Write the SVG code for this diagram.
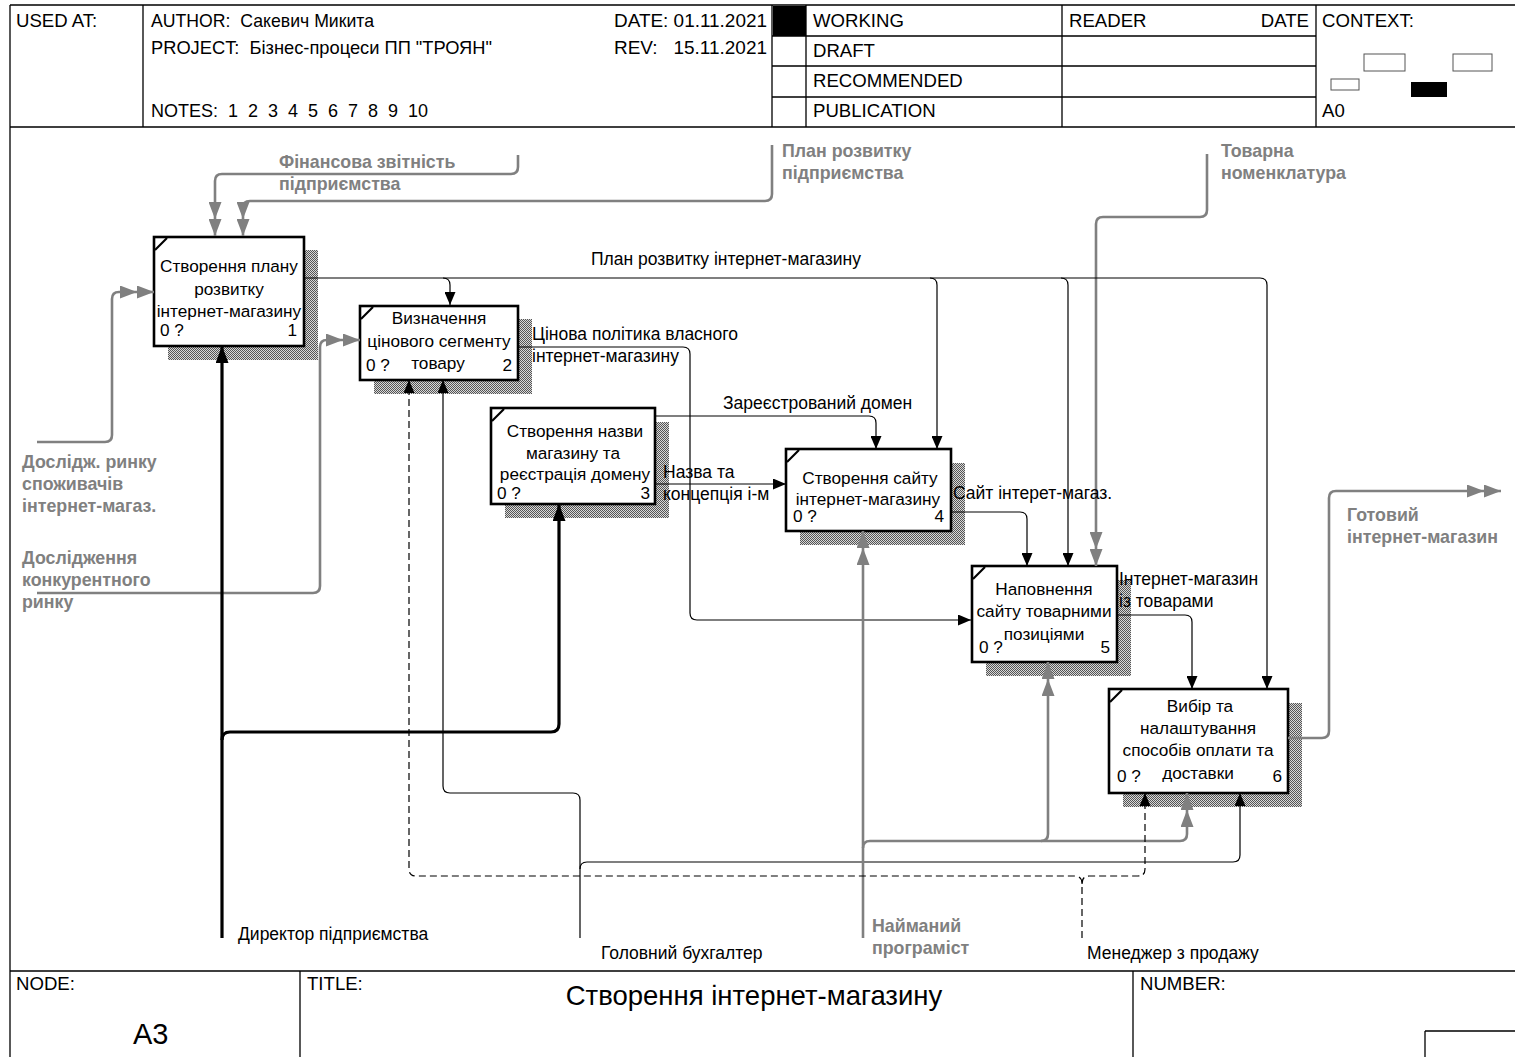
<svg xmlns="http://www.w3.org/2000/svg" width="1515" height="1057" viewBox="0 0 1515 1057">
<style>
text{font-family:"Liberation Sans",Arial,sans-serif;fill:#000;white-space:pre}
.hd{font-size:18.6px}
.bx{font-size:17.2px;text-anchor:middle}
.bn{font-size:17.2px}
.bnr{font-size:17.2px;text-anchor:end}
.lb{font-size:17.5px}
.gl{font-size:17.8px;font-weight:bold;fill:#808080}
.frame{fill:none;stroke:#000;stroke-width:1.3}
.box{fill:#fff;stroke:#000;stroke-width:2.6}
.shadow{fill:url(#hatch)}
.corner{stroke:#000;stroke-width:2.2}
.blk{fill:none;stroke:#000;stroke-width:1.2;marker-end:url(#ab)}
.thk{fill:none;stroke:#000;stroke-width:3.2;marker-end:url(#at)}
.gry{fill:none;stroke:#808080;stroke-width:2.6;marker-end:url(#ag)}
.dsh{fill:none;stroke:#000;stroke-width:1.2;stroke-dasharray:7 4;marker-end:url(#ab)}
</style>
<defs>
<pattern id="hatch" width="2" height="2" patternUnits="userSpaceOnUse">
<rect width="2" height="2" fill="#d8d8d8"/>
<rect width="1" height="1" fill="#555"/>
<rect x="1" y="1" width="1" height="1" fill="#555"/>
</pattern>
<marker id="ab" markerUnits="userSpaceOnUse" viewBox="0 0 13 11" refX="13" refY="5.5" markerWidth="13" markerHeight="11" orient="auto">
<path d="M0,0 L13,5.5 L0,11 Z" fill="#000"/>
</marker>
<marker id="at" markerUnits="userSpaceOnUse" viewBox="0 0 17 13" refX="17" refY="6.5" markerWidth="17" markerHeight="13" orient="auto">
<path d="M0,0 L17,6.5 L0,13 Z" fill="#000"/>
</marker>
<marker id="ag" markerUnits="userSpaceOnUse" viewBox="0 0 34 13" refX="34" refY="6.5" markerWidth="34" markerHeight="13" orient="auto">
<path d="M0,0 L17,6.5 L0,13 Z M17,0 L34,6.5 L17,13 Z" fill="#808080"/>
</marker>
</defs>
<rect width="1515" height="1057" fill="#fff"/>

<g id="header">
<path class="frame" d="M10,5 H1515 M10,5 V1057 M10,127 H1515 M143,5 V127 M772,5 V127 M806,5 V127 M1062,5 V127 M1316,5 V127 M772,36 H1316 M772,66 H1316 M772,97 H1316"/>
<rect x="773" y="6" width="33" height="30" fill="#000"/>
<text class="hd" x="16" y="27">USED AT:</text>
<text class="hd" x="151" y="27" textLength="223" lengthAdjust="spacingAndGlyphs">AUTHOR:  Сакевич Микита</text>
<text class="hd" x="151" y="54" textLength="341" lengthAdjust="spacingAndGlyphs">PROJECT:  Бізнес-процеси ПП "ТРОЯН"</text>
<text class="hd" x="151" y="117" textLength="277" lengthAdjust="spacingAndGlyphs">NOTES:  1  2  3  4  5  6  7  8  9  10</text>
<text class="hd" x="614" y="27" textLength="153" lengthAdjust="spacingAndGlyphs">DATE: 01.11.2021</text>
<text class="hd" x="614" y="54" textLength="153" lengthAdjust="spacingAndGlyphs">REV:   15.11.2021</text>
<text class="hd" x="813" y="27">WORKING</text>
<text class="hd" x="813" y="57">DRAFT</text>
<text class="hd" x="813" y="87">RECOMMENDED</text>
<text class="hd" x="813" y="117">PUBLICATION</text>
<text class="hd" x="1069" y="27">READER</text>
<text class="hd" x="1309" y="27" text-anchor="end">DATE</text>
<text class="hd" x="1322" y="27">CONTEXT:</text>
<text class="hd" x="1322" y="117">A0</text>
<rect x="1364" y="54" width="41" height="17" fill="#fff" stroke="#555" stroke-width="1"/>
<rect x="1453" y="54" width="39" height="17" fill="#fff" stroke="#555" stroke-width="1"/>
<rect x="1331" y="79" width="28" height="11" fill="#fff" stroke="#555" stroke-width="1"/>
<rect x="1411" y="82" width="36" height="15" fill="#000"/>
</g>

<g id="footer">
<path class="frame" d="M10,971 H1515 M300,971 V1057 M1133,971 V1057 M1425,1031 H1515 M1425,1031 V1057"/>
<text class="hd" x="16" y="990">NODE:</text>
<text x="133" y="1044" style="font-size:29px">A3</text>
<text class="hd" x="307" y="990">TITLE:</text>
<text x="754" y="1005" style="font-size:27.5px" text-anchor="middle">Створення інтернет-магазину</text>
<text class="hd" x="1140" y="990">NUMBER:</text>
</g>

<g id="node1">
<rect class="shadow" x="168" y="250" width="150" height="110"/>
<rect class="box" x="154" y="237" width="150" height="109"/>
<line class="corner" x1="155" y1="250" x2="167" y2="238"/>
<text class="bx" x="229" y="272">Створення плану</text>
<text class="bx" x="229" y="295">розвитку</text>
<text class="bx" x="229" y="317">інтернет-магазину</text>
<text class="bn" x="160" y="336">0 ?</text>
<text class="bnr" x="297" y="336">1</text>
</g>

<g id="node2">
<rect class="shadow" x="374" y="319" width="158" height="75"/>
<rect class="box" x="360" y="306" width="158" height="74"/>
<line class="corner" x1="361" y1="319" x2="373" y2="307"/>
<text class="bx" x="439" y="324">Визначення</text>
<text class="bx" x="439" y="347">цінового сегменту</text>
<text class="bx" x="438" y="369">товару</text>
<text class="bn" x="366" y="371">0 ?</text>
<text class="bnr" x="512" y="371">2</text>
</g>

<g id="node3">
<rect class="shadow" x="505" y="422" width="164" height="96"/>
<rect class="box" x="491" y="408" width="164" height="96"/>
<line class="corner" x1="492" y1="421" x2="504" y2="409"/>
<text class="bx" x="575" y="437">Створення назви</text>
<text class="bx" x="573" y="459">магазину та</text>
<text class="bx" x="575" y="480">реєстрація домену</text>
<text class="bn" x="497" y="499">0 ?</text>
<text class="bnr" x="650" y="499">3</text>
</g>

<g id="node4">
<rect class="shadow" x="800" y="463" width="165" height="82"/>
<rect class="box" x="786" y="449" width="165" height="82"/>
<line class="corner" x1="787" y1="462" x2="799" y2="450"/>
<text class="bx" x="870" y="484">Створення сайту</text>
<text class="bx" x="868" y="505">інтернет-магазину</text>
<text class="bn" x="793" y="522">0 ?</text>
<text class="bnr" x="944" y="522">4</text>
</g>

<g id="node5">
<rect class="shadow" x="986" y="580" width="145" height="96"/>
<rect class="box" x="972" y="566" width="145" height="96"/>
<line class="corner" x1="973" y1="579" x2="985" y2="567"/>
<text class="bx" x="1044" y="595">Наповнення</text>
<text class="bx" x="1044" y="617">сайту товарними</text>
<text class="bx" x="1044" y="640">позиціями</text>
<text class="bn" x="979" y="653">0 ?</text>
<text class="bnr" x="1110" y="653">5</text>
</g>

<g id="node6">
<rect class="shadow" x="1123" y="703" width="179" height="104"/>
<rect class="box" x="1109" y="689" width="179" height="104"/>
<line class="corner" x1="1110" y1="702" x2="1122" y2="690"/>
<text class="bx" x="1200" y="712">Вибір та</text>
<text class="bx" x="1198" y="734">налаштування</text>
<text class="bx" x="1198" y="756">способів оплати та</text>
<text class="bx" x="1198" y="779">доставки</text>
<text class="bn" x="1117" y="782">0 ?</text>
<text class="bnr" x="1282" y="782">6</text>
</g>

<g id="connectors">
<path class="gry" d="M518,155 V167 Q518,174 511,174 H222 Q215,174 215,181 V236"/>
<path class="gry" d="M772,145 V194 Q772,201 765,201 H250 Q243,201 243,208 V236"/>
<path class="gry" d="M1207,154 V210 Q1207,217 1200,217 H1103 Q1096,217 1096,224 V566"/>
<path class="gry" d="M37,442 H105 Q112,442 112,435 V299 Q112,292 119,292 H154"/>
<path class="gry" d="M37,593 H313 Q320,593 320,586 V347 Q320,340 327,340 H360"/>
<path class="blk" d="M304,278 H1260 Q1267,278 1267,285 V689"/>
<path class="blk" d="M443,278 Q450,278 450,285 V305"/>
<path class="blk" d="M930,278 Q937,278 937,285 V449"/>
<path class="blk" d="M1061,278 Q1068,278 1068,285 V566"/>
<path class="blk" d="M518,347 H683 Q690,347 690,354 V613 Q690,620 697,620 H971"/>
<path class="blk" d="M655,416 H869 Q876,416 876,423 V449"/>
<path class="blk" d="M655,484 H786"/>
<path class="blk" d="M951,512 H1020 Q1027,512 1027,519 V566"/>
<path class="blk" d="M1117,615 H1185 Q1192,615 1192,622 V689"/>
<path class="gry" d="M1288,738 H1322 Q1329,738 1329,731 V498 Q1329,491 1336,491 H1501"/>
<path class="thk" d="M222,938 V346"/>
<path class="thk" d="M222,740 Q222,732 230,732 H551 Q559,732 559,724 V504"/>
<path class="blk" d="M580,938 V800 Q580,793 573,793 H450 Q443,793 443,786 V380"/>
<path class="blk" d="M580,869 Q580,862 587,862 H1233 Q1240,862 1240,855 V793"/>
<path class="gry" d="M863,938 V531"/>
<path class="gry" d="M863,848 Q863,841 870,841 H1180 Q1187,841 1187,834 V793"/>
<path class="gry" d="M1041,841 Q1048,841 1048,834 V662"/>
<path class="dsh" d="M1082,938 V884 Q1082,876 1075,876 H416 Q409,876 409,869 V380"/>
<path class="dsh" d="M1082,884 Q1082,876 1089,876 H1138 Q1145,876 1145,869 V793"/>
<text class="gl" x="279" y="168">Фінансова звітність</text>
<text class="gl" x="279" y="190">підприємства</text>
<text class="gl" x="782" y="157">План розвитку</text>
<text class="gl" x="782" y="179">підприємства</text>
<text class="gl" x="1221" y="157">Товарна</text>
<text class="gl" x="1221" y="179">номенклатура</text>
<text class="gl" x="22" y="468">Дослідж. ринку</text>
<text class="gl" x="22" y="490">споживачів</text>
<text class="gl" x="22" y="512">інтернет-магаз.</text>
<text class="gl" x="22" y="564">Дослідження</text>
<text class="gl" x="22" y="586">конкурентного</text>
<text class="gl" x="22" y="608">ринку</text>
<text class="gl" x="1347" y="521">Готовий</text>
<text class="gl" x="1347" y="543">інтернет-магазин</text>
<text class="gl" x="872" y="932">Найманий</text>
<text class="gl" x="872" y="954">програміст</text>
<text class="lb" x="591" y="265">План розвитку інтернет-магазину</text>
<text class="lb" x="532" y="340">Цінова політика власного</text>
<text class="lb" x="532" y="362">інтернет-магазину</text>
<text class="lb" x="723" y="409">Зареєстрований домен</text>
<text class="lb" x="663" y="478">Назва та</text>
<text class="lb" x="663" y="500">концепція і-м</text>
<text class="lb" x="953" y="499">Сайт інтерет-магаз.</text>
<text class="lb" x="1119" y="585">Інтернет-магазин</text>
<text class="lb" x="1119" y="607">із товарами</text>
<text class="lb" x="238" y="940">Директор підприємства</text>
<text class="lb" x="601" y="959">Головний бухгалтер</text>
<text class="lb" x="1087" y="959">Менеджер з продажу</text>
</g>
</svg>
